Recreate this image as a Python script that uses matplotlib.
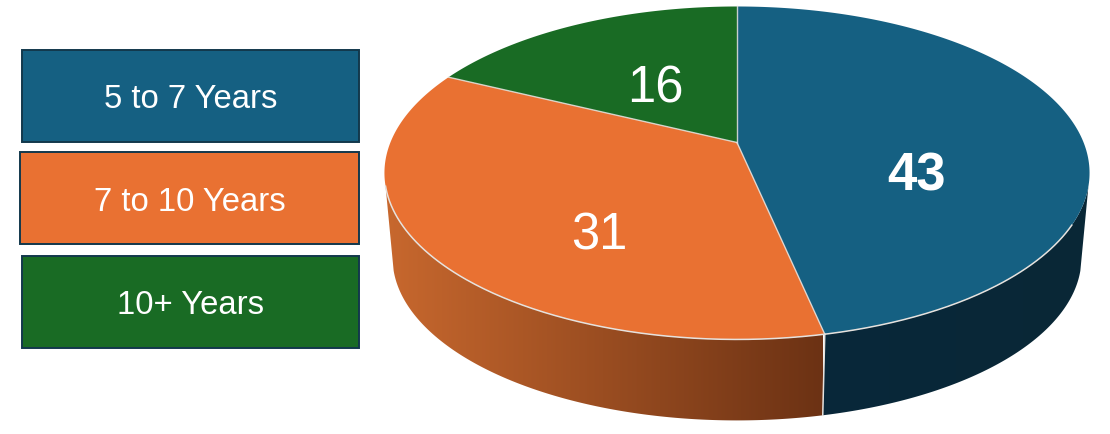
import numpy as np
import matplotlib
matplotlib.use("Agg")
import matplotlib.pyplot as plt
from matplotlib.patches import Polygon, Rectangle
from matplotlib.colors import LinearSegmentedColormap

# ==============================================================
# Data
# ==============================================================
categories = ["5 to 7 Years", "7 to 10 Years", "10+ Years"]
slice_labels = ["43", "31", "16"]
# slice sizes as measured on the drawn pie (out of 90)
slice_sizes = [42, 32, 16]

colors = ["#156082", "#E97132", "#196B24"]
box_edge = "#12384C"
rim = "#E6E2DE"

# ==============================================================
# Figure, pixel coordinates
# ==============================================================
fig = plt.figure(figsize=(11.1, 4.35), dpi=100)
ax = fig.add_axes([0, 0, 1, 1])

# ==============================================================
# Legend boxes
# ==============================================================
boxes = [(22, 51, 337, 92), (20, 153, 339, 92), (22, 257, 337, 92)]
text_y = [99, 203, 306]
for (x, y, w, h), name, col, ty in zip(boxes, categories, colors, text_y):
    ax.add_patch(Rectangle((x, y), w, h, fc=col, ec=box_edge, lw=1.4))
    ax.text(x + w / 2 + 0.5, ty, name, color="white", fontsize=23.7,
            family="Liberation Sans", ha="center", va="center")

# ==============================================================
# Perspective pie
# ==============================================================
CX, CY = 737, 143.5
A, B, K = 346.6, 160.9, 0.183   # radius x, radius y, perspective
DEPTH, SHRINK = 85.5, 0.977     # bottom circle of the cylinder


def top_face(theta):
    # theta in degrees, clockwise from the top
    t = np.radians(theta)
    u, v = np.sin(t), np.cos(t)
    w = 1 + K * v
    return CX + A * u / w, CY - B * v / w


def bottom_face(theta):
    x, y = top_face(theta)
    return CX + SHRINK * (x - CX), CY + DEPTH + SHRINK * (y - CY)


total = sum(slice_sizes)
edges = np.concatenate([[0], np.cumsum(slice_sizes) * 360 / total])

# walls: horizontal gradient clipped to the wall outline
wall_spans = [(105, edges[1]), (edges[1], 255)]
wall_colors = [("#08283A", "#0A2736"), ("#C8682E", "#6C3214")]
wall_extent = [(822, 1090), (384, 823)]
gradient = np.linspace(0, 1, 256)[None, :]
for (start, end), pair, (x0, x1) in zip(wall_spans, wall_colors, wall_extent):
    th = np.linspace(start, end, 300)
    xt, yt = top_face(th)
    xb, yb = bottom_face(th)
    outline = np.column_stack([np.r_[xt, xb[::-1]], np.r_[yt, yb[::-1]]])
    patch = Polygon(outline, closed=True, fc="none", ec="none", transform=ax.transData)
    ax.add_patch(patch)
    cmap = LinearSegmentedColormap.from_list("wall", pair)
    im = ax.imshow(gradient, extent=(x0, x1, 435, 0), cmap=cmap, aspect="auto", zorder=1)
    im.set_clip_path(patch)

# top face
for i, col in enumerate(colors):
    th = np.linspace(edges[i], edges[i + 1], 200)
    x, y = top_face(th)
    pts = np.column_stack([np.r_[CX, x], np.r_[CY, y]])
    ax.add_patch(Polygon(pts, closed=True, fc=col, ec="none", zorder=2))

# white lines between slices and along the front rim
for e in edges[:-1]:
    x, y = top_face(e)
    ax.plot([CX, x], [CY, y], color=rim, lw=1.0, alpha=0.85, zorder=3)
th = np.linspace(118, 255, 300)
x, y = top_face(th)
ax.plot(x, y, color=rim, lw=1.1, zorder=3)
xt, yt = top_face(edges[1])
xb, yb = bottom_face(edges[1])
ax.plot([xt, xb], [yt, yb], color=rim, lw=1.1, zorder=3)

# ==============================================================
# Slice labels
# ==============================================================
label_pos = [(916, 177), (599, 236), (655, 89)]
weights = ["bold", "normal", "normal"]
sizes = [38, 36.5, 36.5]
for (x, y), txt, wt, fs in zip(label_pos, slice_labels, weights, sizes):
    ax.text(x, y, txt, color="white", fontsize=fs, fontweight=wt, zorder=4,
            family="Liberation Sans", ha="center", va="center")

ax.set_xlim(0, 1110)
ax.set_ylim(435, 0)
ax.axis("off")
fig.savefig("out.png", dpi=100)
